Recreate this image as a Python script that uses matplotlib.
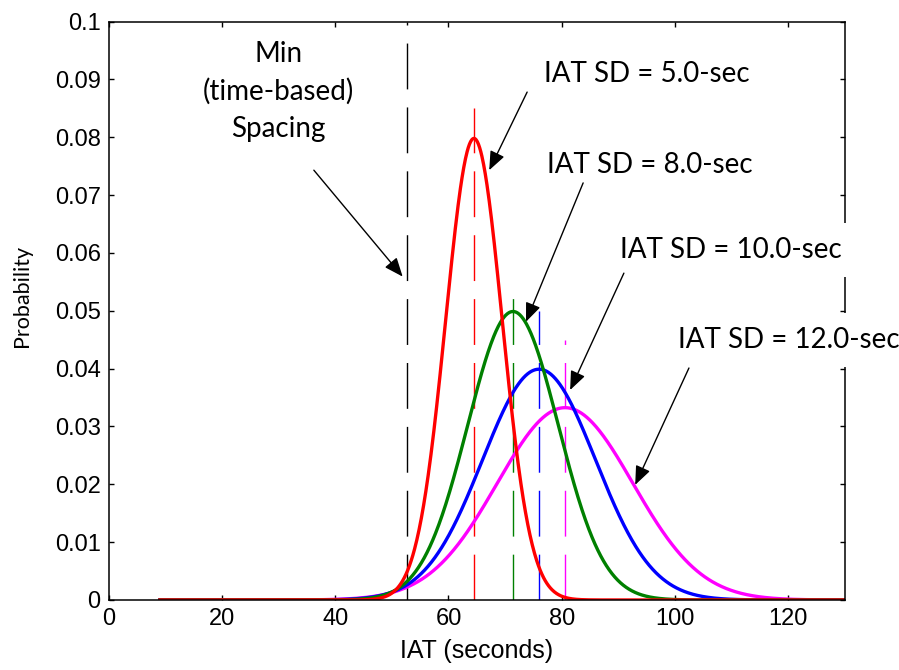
import numpy as np
import matplotlib
matplotlib.use("Agg")
import matplotlib.pyplot as plt

plt.rcParams['lines.scale_dashes'] = False

# ---- data ----
sd_values = [5.0, 8.0, 10.0, 12.0]
means = [64.5, 71.4, 76.0, 80.6]
mean_line_tops = [0.085, 0.0525, 0.050, 0.045]
colors = ['#ff0000', '#008000', '#0000ff', '#ff00ff']
labels = ['IAT SD = 5.0-sec', 'IAT SD = 8.0-sec', 'IAT SD = 10.0-sec', 'IAT SD = 12.0-sec']
min_spacing = 52.7
x_start, x_end = 9.0, 130.0
xticks = [0, 20, 40, 60, 80, 100, 120]
yticks = [0, 0.01, 0.02, 0.03, 0.04, 0.05, 0.06, 0.07, 0.08, 0.09, 0.1]
ytick_labels = ['0', '0.01', '0.02', '0.03', '0.04', '0.05', '0.06', '0.07', '0.08', '0.09', '0.1']

# label placement (data coords): text anchor (left, baseline), arrow start, arrow tip
label_pos = [(76.8, 0.0895), (77.4, 0.0738), (90.4, 0.0591), (100.6, 0.0436)]
arrow_start = [(73.9, 0.0878), (83.8, 0.0721), (91.0, 0.0565), (102.5, 0.0401)]
arrow_tip = [(67.2, 0.0743), (73.7, 0.0481), (81.5, 0.0363), (93.0, 0.0199)]
min_text = ['Min', '(time-based)', 'Spacing']
min_text_pos = [(30.0, 0.0930), (30.0, 0.0865), (30.0, 0.0800)]
min_arrow_start = (36.2, 0.0743)
min_arrow_tip = (51.9, 0.0559)

fig = plt.figure(figsize=(8.99, 6.70), dpi=100)
ax = fig.add_axes([0.1213, 0.1045, 0.8181, 0.8634])

x = np.linspace(x_start, x_end, 1211)

# vertical mean lines and min spacing line (drawn from bottom so dash phase starts at 0)
ax.plot([min_spacing, min_spacing], [0, 0.1], color='black', lw=1.0,
        linestyle=(0, (33, 13)), zorder=1)
for m, top, c in zip(means, mean_line_tops, colors):
    ax.plot([m, m], [0, top], color=c, lw=1.0, linestyle=(0, (33, 13)), zorder=1)

# pdf curves
for i in [3, 2, 1, 0]:
    m, s, c = means[i], sd_values[i], colors[i]
    y = np.exp(-0.5 * ((x - m) / s) ** 2) / (s * np.sqrt(2 * np.pi))
    ax.plot(x, y, color=c, lw=2.4, zorder=2 + (3 - i))

ax.set_xlim(0, 130)
ax.set_ylim(0, 0.1)
ax.set_xticks(xticks)
ax.set_yticks(yticks)
ax.set_yticklabels(ytick_labels)
ax.tick_params(direction='in', top=True, right=True, length=3.6, width=1.0,
               labelsize=17, pad=6)
for lab in ax.get_xticklabels() + ax.get_yticklabels():
    lab.set_fontfamily('Liberation Sans')
for sp in ax.spines.values():
    sp.set_linewidth(1.1)
    sp.set_zorder(5)

ax.set_xlabel('IAT (seconds)', fontsize=18, family='Liberation Sans', va='top')
ax.xaxis.set_label_coords(0.5, -0.067)
ax.set_ylabel('Probability', fontsize=15.5, family='Lato', va='center')
ax.yaxis.set_label_coords(-0.118, 0.5255)

# SD labels with white boxes
for (tx, ty), lab in zip(label_pos, labels):
    ax.text(tx, ty, lab, fontsize=20, family='Lato', ha='left', va='baseline',
            bbox=dict(boxstyle='square,pad=0.5', fc='white', ec='none'),
            zorder=10, clip_on=False)

for (tx, ty), lab in zip(min_text_pos, min_text):
    ax.text(tx, ty, lab, fontsize=20, family='Lato', ha='center', va='baseline',
            zorder=10, clip_on=False)

arrow_kw = dict(arrowstyle='-|>,head_length=1.15,head_width=0.47', color='black',
                lw=1.0, shrinkA=0, shrinkB=0, mutation_scale=10)
for s, t in zip(arrow_start + [min_arrow_start], arrow_tip + [min_arrow_tip]):
    ax.annotate('', xy=t, xytext=s, arrowprops=arrow_kw, zorder=11,
                annotation_clip=False)

fig.savefig('out.png', dpi=100)
